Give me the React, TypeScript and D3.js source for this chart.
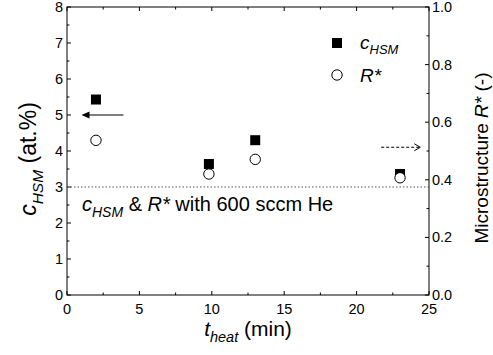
import React, { useRef, useEffect } from 'react';
import * as d3 from 'd3';

// data
const tHeat = [2.0, 9.8, 13.0, 23.0];
const cHSM = [5.43, 3.64, 4.3, 3.36];
const rStar = [0.537, 0.42, 0.471, 0.407];

const xTicks = [0, 5, 10, 15, 20, 25];
const yLeftTicks = [0, 1, 2, 3, 4, 5, 6, 7, 8];
const yRightTicks = [0, 0.2, 0.4, 0.6, 0.8, 1.0];
const referenceLevel = 3; // 600 sccm He level on left axis

const App = () => {
    const ref = useRef<SVGSVGElement>(null);

    useEffect(() => {
        const svg = d3.select(ref.current);
        svg.selectAll('*').remove();

        const width = 493;
        const height = 355;
        const margin = { top: 7, right: 64, bottom: 60, left: 67 };
        const font = 'Liberation Sans, Arial, sans-serif';

        const x = d3.scaleLinear().domain([0, 25]).range([margin.left, width - margin.right]);
        const yL = d3.scaleLinear().domain([0, 8]).range([height - margin.bottom, margin.top]);
        const yR = d3.scaleLinear().domain([0, 1]).range([height - margin.bottom, margin.top]);

        const x0 = x(0), x1 = x(25), y0 = yL(0), y1 = yL(8);

        // frame
        svg.append('rect')
            .attr('x', x0).attr('y', y1)
            .attr('width', x1 - x0).attr('height', y0 - y1)
            .attr('fill', 'none').attr('stroke', '#000').attr('stroke-width', 1);

        const g = svg.append('g').attr('stroke', '#000').attr('stroke-width', 1);
        const major = 4, minor = 2.5;

        // x ticks, bottom and top
        d3.range(0, 25.01, 2.5).forEach(v => {
            const len = v % 5 === 0 ? major : minor;
            g.append('line').attr('x1', x(v)).attr('x2', x(v)).attr('y1', y0).attr('y2', y0 - len);
            g.append('line').attr('x1', x(v)).attr('x2', x(v)).attr('y1', y1).attr('y2', y1 + len);
        });
        // left ticks
        d3.range(0, 8.01, 0.5).forEach(v => {
            const len = v % 1 === 0 ? major : minor;
            g.append('line').attr('x1', x0).attr('x2', x0 + len).attr('y1', yL(v)).attr('y2', yL(v));
        });
        // right ticks
        d3.range(0, 10.01, 1).forEach(i => {
            const v = i / 10;
            const len = i % 2 === 0 ? major : minor;
            g.append('line').attr('x1', x1).attr('x2', x1 - len).attr('y1', yR(v)).attr('y2', yR(v));
        });

        // tick labels
        svg.append('g').selectAll('text').data(xTicks).enter().append('text')
            .attr('x', d => x(d)).attr('y', y0 + 19)
            .attr('text-anchor', 'middle')
            .attr('font-family', font).attr('font-size', 14.5)
            .text(d => d);
        svg.append('g').selectAll('text').data(yLeftTicks).enter().append('text')
            .attr('x', x0 - 4).attr('y', d => yL(d) + 5)
            .attr('text-anchor', 'end')
            .attr('font-family', font).attr('font-size', 14.5)
            .text(d => d);
        svg.append('g').selectAll('text').data(yRightTicks).enter().append('text')
            .attr('x', x1 + 3).attr('y', d => yR(d) + 5)
            .attr('text-anchor', 'start')
            .attr('font-family', font).attr('font-size', 14.5)
            .text(d => d3.format('.1f')(d));

        // reference dotted line
        svg.append('line')
            .attr('x1', x0).attr('x2', x1)
            .attr('y1', yL(referenceLevel)).attr('y2', yL(referenceLevel))
            .attr('stroke', '#555').attr('stroke-width', 1).attr('stroke-dasharray', '1.5,2');

        // data points
        const sq = 10;
        svg.append('g').selectAll('rect').data(tHeat).enter().append('rect')
            .attr('x', (d) => x(d) - sq / 2)
            .attr('y', (d, i) => yL(cHSM[i]) - sq / 2)
            .attr('width', sq).attr('height', sq)
            .attr('fill', '#000');
        svg.append('g').selectAll('circle').data(tHeat).enter().append('circle')
            .attr('cx', d => x(d))
            .attr('cy', (d, i) => yR(rStar[i]))
            .attr('r', 5.2)
            .attr('fill', '#fff').attr('stroke', '#000').attr('stroke-width', 1);

        // solid arrow pointing to left axis
        const ay = yL(5);
        svg.append('line').attr('x1', x(3.9)).attr('x2', x(1.3)).attr('y1', ay).attr('y2', ay)
            .attr('stroke', '#000').attr('stroke-width', 1);
        svg.append('path')
            .attr('d', `M${x(1.0)},${ay} l8,-3.5 l0,7 z`)
            .attr('fill', '#000');

        // dashed arrow pointing to right axis
        const by = yR(0.513);
        const bx0 = x(21.7), bx1 = x(24.4);
        svg.append('line').attr('x1', bx0).attr('x2', bx1).attr('y1', by).attr('y2', by)
            .attr('stroke', '#000').attr('stroke-width', 1).attr('stroke-dasharray', '3,2');
        svg.append('path')
            .attr('d', `M${bx1 - 6},${by - 3.5} L${bx1},${by} L${bx1 - 6},${by + 3.5}`)
            .attr('fill', 'none').attr('stroke', '#000').attr('stroke-width', 1);

        // legend
        const lx = 337;
        svg.append('rect').attr('x', lx - sq / 2).attr('y', 43 - sq / 2)
            .attr('width', sq).attr('height', sq).attr('fill', '#000');
        svg.append('circle').attr('cx', lx).attr('cy', 75).attr('r', 5.2)
            .attr('fill', '#fff').attr('stroke', '#000');
        const leg1 = svg.append('text').attr('x', 360).attr('y', 49)
            .attr('font-family', font).attr('font-size', 19).attr('font-style', 'italic');
        leg1.append('tspan').text('c');
        leg1.append('tspan').attr('font-size', 13).attr('dy', 5).text('HSM');
        svg.append('text').attr('x', 360).attr('y', 82)
            .attr('font-family', font).attr('font-size', 19).attr('font-style', 'italic')
            .text('R*');

        // annotation
        const ann = svg.append('text').attr('x', 82).attr('y', 211)
            .attr('font-family', font).attr('font-size', 20);
        ann.append('tspan').attr('font-style', 'italic').text('c');
        ann.append('tspan').attr('font-style', 'italic').attr('font-size', 14).attr('dy', 6).text('HSM');
        ann.append('tspan').attr('dy', -6).text(' & ');
        ann.append('tspan').attr('font-style', 'italic').text('R*');
        ann.append('tspan').text(' with 600 sccm He');

        // x title
        const xt = svg.append('text')
            .attr('x', 248).attr('y', 336)
            .attr('text-anchor', 'middle')
            .attr('font-family', font).attr('font-size', 21);
        xt.append('tspan').attr('font-style', 'italic').text('t');
        xt.append('tspan').attr('font-style', 'italic').attr('font-size', 14.5).attr('dy', 6).text('heat');
        xt.append('tspan').attr('dy', -6).text(' (min)');

        // left title
        const yt = svg.append('text')
            .attr('transform', `translate(36, 159) rotate(-90)`)
            .attr('text-anchor', 'middle')
            .attr('font-family', font).attr('font-size', 23);
        yt.append('tspan').attr('font-style', 'italic').text('c');
        yt.append('tspan').attr('font-style', 'italic').attr('font-size', 15.5).attr('dy', 7).text('HSM');
        yt.append('tspan').attr('dy', -7).text(' (at.%)');

        // right title
        const rt = svg.append('text')
            .attr('transform', `translate(488, 158) rotate(-90)`)
            .attr('text-anchor', 'middle')
            .attr('font-family', font).attr('font-size', 19);
        rt.append('tspan').text('Microstructure ');
        rt.append('tspan').attr('font-style', 'italic').text('R*');
        rt.append('tspan').text(' (-)');
    }, []);

    return (
        <svg ref={ref} width={493} height={355}
            style={{ position: 'absolute', left: 0, top: 0, background: '#fff' }} />
    );
};

export default App;
